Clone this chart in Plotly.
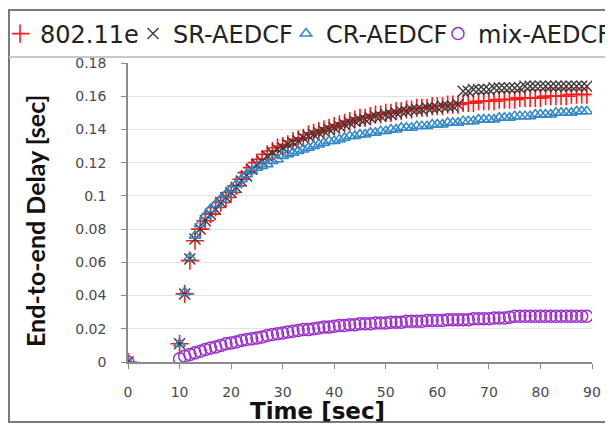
import plotly.graph_objects as go

# ---- data ----
time_s = [0] + list(range(10, 90))

delay_80211e = [0,
    0.011, 0.041, 0.061, 0.073, 0.080, 0.085, 0.089, 0.093, 0.096, 0.099,
    0.102, 0.106, 0.110, 0.114, 0.117, 0.120, 0.122, 0.125, 0.127, 0.129,
    0.130, 0.131, 0.133, 0.134, 0.135, 0.137, 0.138, 0.139, 0.140, 0.141,
    0.142, 0.143, 0.144, 0.145, 0.146, 0.147, 0.147, 0.148, 0.149, 0.149,
    0.150, 0.150, 0.151, 0.151, 0.152, 0.152, 0.153, 0.153, 0.153, 0.154,
    0.154, 0.154, 0.155, 0.155, 0.155, 0.156, 0.156, 0.156, 0.157, 0.157,
    0.157, 0.157, 0.158, 0.158, 0.158, 0.158, 0.159, 0.159, 0.159, 0.159,
    0.159, 0.160, 0.160, 0.160, 0.160, 0.160, 0.161, 0.161, 0.161, 0.161]

delay_sr = [0,
    0.011, 0.041, 0.062, 0.074, 0.080, 0.085, 0.089, 0.092, 0.096, 0.099,
    0.102, 0.105, 0.109, 0.112, 0.116, 0.119, 0.121, 0.124, 0.126, 0.128,
    0.129, 0.131, 0.132, 0.133, 0.135, 0.136, 0.137, 0.138, 0.139, 0.140,
    0.141, 0.142, 0.143, 0.144, 0.145, 0.146, 0.146, 0.147, 0.148, 0.148,
    0.149, 0.149, 0.150, 0.151, 0.151, 0.152, 0.152, 0.152, 0.153, 0.153,
    0.153, 0.154, 0.154, 0.154, 0.155, 0.163, 0.163, 0.164, 0.164, 0.164,
    0.164, 0.165, 0.165, 0.165, 0.165, 0.165, 0.165, 0.166, 0.166, 0.166,
    0.166, 0.166, 0.166, 0.166, 0.166, 0.166, 0.166, 0.166, 0.166, 0.166]

delay_cr = [0,
    0.011, 0.042, 0.063, 0.076, 0.083, 0.088, 0.092, 0.095, 0.098, 0.101,
    0.104, 0.107, 0.110, 0.113, 0.115, 0.117, 0.118, 0.119, 0.121, 0.122,
    0.124, 0.125, 0.126, 0.127, 0.128, 0.129, 0.130, 0.131, 0.132, 0.133,
    0.133, 0.134, 0.135, 0.136, 0.136, 0.137, 0.137, 0.138, 0.138, 0.139,
    0.139, 0.140, 0.140, 0.141, 0.141, 0.141, 0.142, 0.142, 0.142, 0.143,
    0.143, 0.143, 0.144, 0.144, 0.144, 0.145, 0.145, 0.145, 0.146, 0.146,
    0.146, 0.146, 0.147, 0.147, 0.147, 0.148, 0.148, 0.148, 0.148, 0.149,
    0.149, 0.149, 0.149, 0.150, 0.150, 0.150, 0.150, 0.151, 0.151, 0.151]

delay_mix = [0,
    0.0020, 0.0035, 0.0045, 0.0055, 0.0065, 0.0075, 0.0085, 0.0090, 0.0100, 0.0110,
    0.0115, 0.0120, 0.0130, 0.0135, 0.0140, 0.0145, 0.0150, 0.0160, 0.0165, 0.0170,
    0.0175, 0.0180, 0.0185, 0.0190, 0.0195, 0.0195, 0.0200, 0.0205, 0.0210, 0.0210,
    0.0215, 0.0220, 0.0220, 0.0225, 0.0225, 0.0230, 0.0230, 0.0230, 0.0235, 0.0235,
    0.0235, 0.0240, 0.0240, 0.0240, 0.0245, 0.0245, 0.0245, 0.0245, 0.0250, 0.0250,
    0.0250, 0.0250, 0.0255, 0.0255, 0.0255, 0.0255, 0.0255, 0.0260, 0.0260, 0.0260,
    0.0260, 0.0265, 0.0265, 0.0265, 0.0270, 0.0275, 0.0275, 0.0275, 0.0275, 0.0275,
    0.0275, 0.0275, 0.0275, 0.0275, 0.0275, 0.0275, 0.0275, 0.0275, 0.0275, 0.0275]

series_names = ["802.11e", "SR-AEDCF", "CR-AEDCF", "mix-AEDCF"]
x_ticks = [0, 10, 20, 30, 40, 50, 60, 70, 80, 90]
y_ticks = [0, 0.02, 0.04, 0.06, 0.08, 0.1, 0.12, 0.14, 0.16, 0.18]
y_tick_labels = ["0", "0.02", "0.04", "0.06", "0.08", "0.1", "0.12", "0.14", "0.16", "0.18"]
x_title = "Time [sec]"
y_title = "End-to-end Delay [sec]"

# ---- figure (page has an 8px body margin, so figure px = page px - 8) ----
OFF = 8
W, H = 613 - OFF, 424 - OFF
L, T = 128 - OFF, 63 - OFF
R = W - (592 - OFF)
B = H - (362 - OFF)

styles = [
    dict(symbol="cross-thin-open", size=13, color="#ff1a1a", lw=1.6, legend="legend"),
    dict(symbol="x-thin-open", size=11, color="#3a3a3a", lw=1.4, legend="legend2"),
    dict(symbol="triangle-up-open", size=10, color="#2f86c8", lw=1.5, legend="legend3"),
    dict(symbol="circle-open", size=12, color="#9a2fd0", lw=1.5, legend="legend4"),
]
values = [delay_80211e, delay_sr, delay_cr, delay_mix]

fig = go.Figure()
for name, vals, st in zip(series_names, values, styles):
    fig.add_trace(go.Scatter(
        x=time_s, y=vals, name=name, mode="markers",
        marker=dict(symbol=st["symbol"], size=st["size"], color=st["color"],
                    line=dict(color=st["color"], width=st["lw"])),
        legend=st["legend"], showlegend=True,
    ))

legend_font = dict(family="DejaVu Sans", size=24, color="#222222")
legend_symbol_page_x = [20, 153, 306, 458]
leg_common = dict(orientation="h", xref="container", yref="container",
                  xanchor="left", yanchor="middle", y=(H - (34 - OFF)) / H,
                  font=legend_font, bgcolor="rgba(0,0,0,0)", itemwidth=30,
                  indentation=-12)

legends = {}
for i, sx in enumerate(legend_symbol_page_x):
    key = "legend" if i == 0 else f"legend{i + 1}"
    legends[key] = dict(x=(sx - 16) / W, **leg_common)

tick_font = dict(family="DejaVu Sans", size=14, color="#4a4a4a")
fig.update_layout(
    width=W, height=H,
    margin=dict(l=L, r=R, t=T, b=B, autoexpand=False),
    paper_bgcolor="white", plot_bgcolor="white",
    **legends,
    xaxis=dict(
        range=[0, 90], tickmode="array", tickvals=x_ticks,
        showgrid=False, zeroline=False,
        showline=True, linecolor="#8c8c8c", linewidth=1.5,
        ticks="outside", ticklen=5, tickcolor="#8c8c8c",
        ticklabelstandoff=11, tickfont=tick_font,
    ),
    yaxis=dict(
        range=[0, 0.18], tickmode="array", tickvals=y_ticks, ticktext=y_tick_labels,
        showgrid=True, gridcolor="#e3e3e3", gridwidth=1, zeroline=False,
        showline=True, linecolor="#8c8c8c", linewidth=1.5,
        ticks="outside", ticklen=5, tickcolor="#8c8c8c",
        ticklabelstandoff=12, tickfont=tick_font,
    ),
)

pw, ph = W - L - R, H - T - B
def px_x(p):
    return (p - OFF - L) / pw
def px_y(p):
    return (H - B - (p - OFF)) / ph

# axis titles placed where the reference shows them
fig.add_annotation(text=f"<b>{x_title}</b>", xref="paper", yref="paper",
                   x=px_x(317), y=px_y(411), showarrow=False,
                   xanchor="center", yanchor="middle",
                   font=dict(family="DejaVu Sans", size=23, color="#111111"))
fig.add_annotation(text=f"<b>{y_title}</b>", xref="paper", yref="paper",
                   x=px_x(35), y=px_y(221), showarrow=False, textangle=-90,
                   xanchor="center", yanchor="middle",
                   font=dict(family="Lato, Open Sans, sans-serif", size=25, color="#111111"))

# outer frame and legend separator
fig.add_shape(type="rect", xref="paper", yref="paper",
              x0=px_x(9), x1=px_x(650), y0=px_y(422), y1=px_y(10),
              line=dict(color="#7a7a7a", width=2), layer="below")
fig.add_shape(type="line", xref="paper", yref="paper",
              x0=px_x(9), x1=px_x(650), y0=px_y(57), y1=px_y(57),
              line=dict(color="#c8c8c8", width=2), layer="below")

fig.write_html("out.html")
